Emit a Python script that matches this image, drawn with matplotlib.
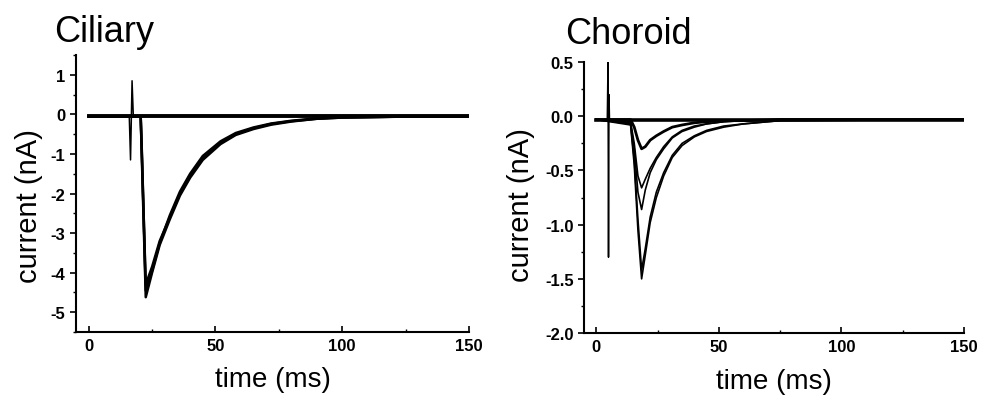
import matplotlib.pyplot as plt
from matplotlib.ticker import MultipleLocator, FormatStrFormatter

plt.rcParams['font.family'] = ['Liberation Sans', 'DejaVu Sans']
plt.rcParams['axes.unicode_minus'] = False

# ---- Ciliary traces (time ms, current nA) ----
cil_base_t = [0, 150]
cil_base_i = [-0.05, -0.05]
cil_art_t = [16.0, 16.5, 17.1, 17.6, 18.2]
cil_art_i = [-0.05, -1.15, 0.85, -0.05, -0.05]

cil_t = [0, 20.5, 21.0, 22.5, 25.0, 28.0, 32.0, 36.0, 40.0, 45.0, 52.0, 58.0, 65.0, 72.0, 80.0, 90.0, 100.0, 120.0, 150.0]
cil_a = [-0.05, -0.05, -1.2, -4.62, -4.0, -3.3, -2.65, -2.05, -1.6, -1.15, -0.75, -0.52, -0.37, -0.26, -0.18, -0.11, -0.08, -0.06, -0.05]
cil_b = [-0.05, -0.05, -1.0, -4.45, -3.95, -3.25, -2.55, -1.95, -1.5, -1.05, -0.68, -0.47, -0.33, -0.23, -0.16, -0.10, -0.07, -0.06, -0.05]
cil_c = [-0.05, -0.05, -1.1, -4.30, -3.85, -3.2, -2.6, -2.0, -1.55, -1.1, -0.72, -0.5, -0.35, -0.24, -0.17, -0.11, -0.08, -0.06, -0.05]

# ---- Choroid traces ----
cho_base_t = [0, 150]
cho_base_i = [-0.03, -0.03]
cho_art_t = [4.5, 4.8, 5.0, 5.2, 5.4, 5.7]
cho_art_i = [-0.03, 0.5, -1.30, 0.2, -0.03, -0.03]

cho_t = [0, 14.0, 15.5, 17.0, 18.5, 20.0, 22.0, 24.5, 27.5, 31.0, 35.0, 40.0, 45.0, 52.0, 60.0, 75.0, 150.0]
cho_small = [-0.03, -0.03, -0.10, -0.22, -0.30, -0.28, -0.22, -0.18, -0.14, -0.10, -0.08, -0.06, -0.05, -0.04, -0.04, -0.03, -0.03]
cho_med1 = [-0.03, -0.05, -0.25, -0.55, -0.66, -0.58, -0.48, -0.38, -0.28, -0.19, -0.13, -0.09, -0.07, -0.05, -0.04, -0.03, -0.03]
cho_med2 = [-0.03, -0.06, -0.30, -0.70, -0.86, -0.68, -0.52, -0.40, -0.30, -0.20, -0.14, -0.10, -0.07, -0.05, -0.04, -0.03, -0.03]
cho_big1 = [-0.03, -0.08, -0.45, -1.05, -1.50, -1.28, -0.98, -0.75, -0.55, -0.38, -0.27, -0.19, -0.14, -0.10, -0.07, -0.04, -0.03]
cho_big2 = [-0.03, -0.07, -0.40, -0.95, -1.42, -1.22, -0.93, -0.70, -0.52, -0.36, -0.25, -0.18, -0.13, -0.09, -0.07, -0.04, -0.03]

fig = plt.figure(figsize=(9.81, 4.02), dpi=100)
ax1 = fig.add_axes([0.0775, 0.1716, 0.4006, 0.689])
ax2 = fig.add_axes([0.5953, 0.169, 0.3874, 0.674])

ax1.plot(cil_base_t, cil_base_i, color='black', lw=2.8)
ax1.plot(cil_art_t, cil_art_i, color='black', lw=1.1)
for tr in (cil_a, cil_b, cil_c):
    ax1.plot(cil_t, tr, color='black', lw=1.8)

ax2.plot(cho_base_t, cho_base_i, color='black', lw=2.6)
ax2.plot(cho_art_t, cho_art_i, color='black', lw=1.1)
ax2.plot(cho_t, cho_small, color='black', lw=2.0)
for tr in (cho_med1, cho_med2, cho_big1, cho_big2):
    ax2.plot(cho_t, tr, color='black', lw=1.2)

ax1.set_xlim(-5, 150)
ax1.set_ylim(-5.5, 1.5)
ax1.yaxis.set_major_locator(MultipleLocator(1))
ax1.yaxis.set_minor_locator(MultipleLocator(0.5))
ax1.set_title('Ciliary', fontsize=26, loc='left', x=-0.056, y=1.02)

ax2.set_xlim(-5, 150)
ax2.set_ylim(-2.0, 0.5)
ax2.yaxis.set_major_locator(MultipleLocator(0.5))
ax2.yaxis.set_minor_locator(MultipleLocator(0.25))
ax2.yaxis.set_major_formatter(FormatStrFormatter('%.1f'))
ax2.set_title('Choroid', fontsize=26, loc='left', x=-0.05, y=1.04)

for ax in (ax1, ax2):
    ax.spines['top'].set_visible(False)
    ax.spines['right'].set_visible(False)
    ax.spines['left'].set_linewidth(1.5)
    ax.spines['bottom'].set_linewidth(1.5)
    ax.xaxis.set_major_locator(MultipleLocator(50))
    ax.xaxis.set_minor_locator(MultipleLocator(25))
    ax.tick_params(axis='y', which='major', direction='out', length=4, width=1.2, labelsize=12)
    ax.tick_params(axis='y', which='minor', direction='out', length=2.5, width=1.0)
    ax.tick_params(axis='x', which='major', direction='in', length=4, width=1.2, labelsize=12, pad=4)
    ax.tick_params(axis='x', which='minor', direction='in', length=2.5, width=1.0)
    for lab in ax.get_xticklabels() + ax.get_yticklabels():
        lab.set_fontweight('bold')
    ax.set_xlabel('time (ms)', fontsize=20, labelpad=10)
    ax.set_ylabel('current (nA)', fontsize=21)

ax1.yaxis.set_label_coords(-0.083, 0.46)
ax2.yaxis.set_label_coords(-0.128, 0.475)

fig.savefig('out.png', dpi=100)
